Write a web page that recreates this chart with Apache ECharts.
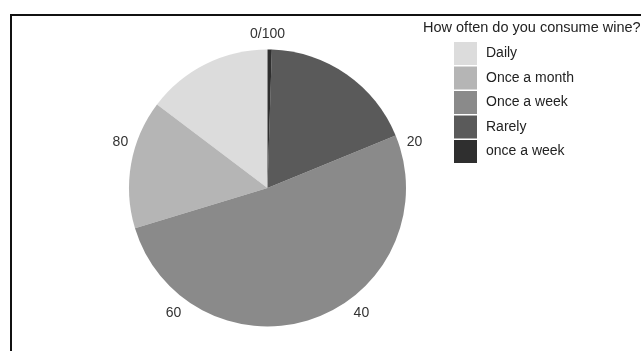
<!DOCTYPE html>
<html>
<head>
<meta charset="utf-8">
<script src="https://cdn.jsdelivr.net/npm/echarts@6/dist/echarts.min.js"></script>
<style>
  html, body { margin: 0; padding: 0; background: #fff; }
  #main { width: 641px; height: 351px; }
</style>
</head>
<body>
<div id="main"></div>
<script>
// answers, in legend order (pie runs counter-clockwise from 12 o'clock)
var categories = ['Daily', 'Once a month', 'Once a week', 'Rarely', 'once a week'];
var shares = [14.7, 15.0, 51.5, 18.3, 0.5];
// labels round the pie
var angleTicks = [0, 20, 40, 60, 80];
var angleTickText = ['0/100', '20', '40', '60', '80'];

var palette = ['#dcdcdc', '#b5b5b5', '#8a8a8a', '#5a5a5a', '#2f2f2f'];
var fontName = 'Liberation Sans, Arial, sans-serif';

var pieData = categories.map(function (name, i) {
    return { name: name, value: shares[i] };
});

var option = {
    animation: false,
    backgroundColor: '#fff',
    color: palette,
    title: {
        text: 'How often do you consume wine?',
        left: 423,
        top: 20,
        padding: 0,
        textStyle: { fontFamily: fontName, fontSize: 14.5, fontWeight: 'normal', color: '#222' }
    },
    legend: {
        orient: 'vertical',
        left: 454,
        top: 42,
        padding: 0,
        icon: 'rect',
        itemWidth: 23,
        itemHeight: 23,
        itemGap: 1.5,
        selectedMode: false,
        textStyle: { fontFamily: fontName, fontSize: 14, color: '#222', padding: [0, 0, 0, 4] }
    },
    polar: { center: [267.5, 188], radius: 138.5 },
    radiusAxis: { show: false, min: 0, max: 1 },
    angleAxis: {
        type: 'value',
        min: 0,
        max: 100,
        interval: 20,
        startAngle: 90,
        clockwise: true,
        axisLine: { show: false },
        axisTick: { show: false },
        splitLine: { show: false },
        axisLabel: {
            margin: 8,
            fontFamily: fontName,
            fontSize: 14,
            color: '#333',
            formatter: function (v) {
                var i = angleTicks.indexOf(v);
                if (i < 0) return '';
                // side labels sit level with the tick, not above it
                if (v === 20 || v === 80) return '{side|' + angleTickText[i] + '}';
                return angleTickText[i];
            },
            rich: {
                side: { fontFamily: fontName, fontSize: 14, color: '#333', lineHeight: 2 }
            }
        }
    },
    graphic: [{
        type: 'rect',
        shape: { x: 11, y: 15, width: 700, height: 400 },
        style: { fill: 'none', stroke: '#111', lineWidth: 2 },
        silent: true
    }],
    series: [{
        name: 'How often do you consume wine?',
        type: 'pie',
        center: [267.5, 188],
        radius: 138.5,
        startAngle: 90,
        clockwise: false,
        label: { show: false },
        labelLine: { show: false },
        itemStyle: { borderWidth: 0 },
        emphasis: { disabled: true },
        data: pieData
    }]
};

var chart = echarts.init(document.getElementById('main'));
chart.setOption(option);
</script>
</body>
</html>
